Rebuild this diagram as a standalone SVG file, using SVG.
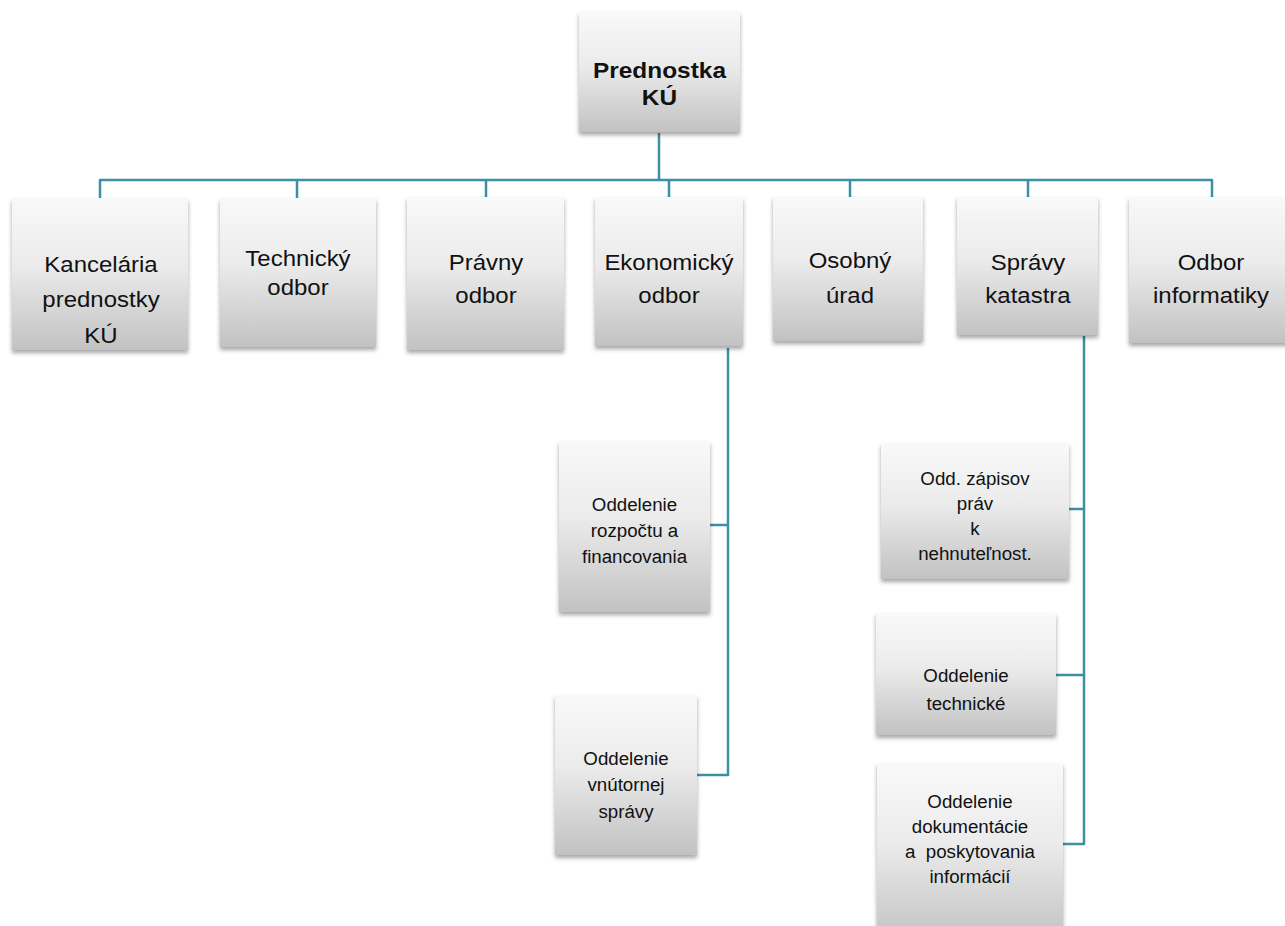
<svg xmlns="http://www.w3.org/2000/svg" width="1285" height="926" viewBox="0 0 1285 926">
<defs>
<linearGradient id="g" x1="0" y1="0" x2="0" y2="1">
<stop offset="0" stop-color="#f9f9f9"/>
<stop offset="0.45" stop-color="#ebebeb"/>
<stop offset="1" stop-color="#c2c2c2"/>
</linearGradient>
<filter id="sh" x="-10%" y="-10%" width="125%" height="125%">
<feDropShadow dx="0" dy="3" stdDeviation="2" flood-color="#000" flood-opacity="0.35"/>
</filter>
</defs>
<style>
.box{fill:url(#g);filter:url(#sh);}
.t{font-family:"Liberation Sans",Arial,sans-serif;font-size:22px;fill:#111;text-anchor:middle;}
.b{font-weight:bold;}
.s{font-size:18px;}
.c{fill:none;stroke:#3e8fa6;stroke-width:2.5;stroke-linejoin:round;}
</style>
<rect width="1285" height="926" fill="#ffffff"/>
<g id="connectors">
<path class="c" d="M659,133V180"/>
<path class="c" d="M100,198V180H1212V198"/>
<path class="c" d="M297,180V198M486,180V198M669,180V198M850,180V198M1028,180V198"/>
<path class="c" d="M728,348V775H697M710,525H728"/>
<path class="c" d="M1084,336V844H1063M1069,509H1084M1056,675H1084"/>
</g>
<g id="n-prednostka">
<rect class="box" x="579" y="12" width="161" height="120"/>
<g transform="scale(1.11,1)">
<text class="t b" x="594.14" y="78">Prednostka</text>
<text class="t b" x="594.14" y="105">KÚ</text>
</g>
</g>
<g id="n-kancelaria">
<rect class="box" x="12" y="198" width="176" height="152"/>
<g transform="scale(1.09,1)">
<text class="t" x="92.66" y="272">Kancelária</text>
<text class="t" x="92.66" y="307">prednostky</text>
<text class="t" x="92.66" y="343">KÚ</text>
</g>
</g>
<g id="n-technicky">
<rect class="box" x="220" y="198" width="156" height="149"/>
<g transform="scale(1.09,1)">
<text class="t" x="273.39" y="266">Technický</text>
<text class="t" x="273.39" y="295">odbor</text>
</g>
</g>
<g id="n-pravny">
<rect class="box" x="407" y="197" width="157" height="153"/>
<g transform="scale(1.09,1)">
<text class="t" x="445.87" y="270">Právny</text>
<text class="t" x="445.87" y="303">odbor</text>
</g>
</g>
<g id="n-ekonomicky">
<rect class="box" x="595" y="197" width="148" height="149"/>
<g transform="scale(1.09,1)">
<text class="t" x="613.76" y="270">Ekonomický</text>
<text class="t" x="613.76" y="303">odbor</text>
</g>
</g>
<g id="n-osobny">
<rect class="box" x="773" y="197" width="150" height="144"/>
<g transform="scale(1.09,1)">
<text class="t" x="779.82" y="268">Osobný</text>
<text class="t" x="779.82" y="303">úrad</text>
</g>
</g>
<g id="n-spravy">
<rect class="box" x="957" y="197" width="141" height="138"/>
<g transform="scale(1.09,1)">
<text class="t" x="943.12" y="270">Správy</text>
<text class="t" x="943.12" y="303">katastra</text>
</g>
</g>
<g id="n-informatiky">
<rect class="box" x="1129" y="197" width="163" height="146"/>
<g transform="scale(1.09,1)">
<text class="t" x="1111.01" y="270">Odbor</text>
<text class="t" x="1111.01" y="303">informatiky</text>
</g>
</g>
<g id="n-rozpoctu">
<rect class="box" x="559" y="441" width="151" height="171"/>
<g transform="scale(1.04,1)">
<text class="t s" x="610.10" y="511">Oddelenie</text>
<text class="t s" x="610.10" y="537">rozpočtu a</text>
<text class="t s" x="610.10" y="563">financovania</text>
</g>
</g>
<g id="n-vnutornej">
<rect class="box" x="555" y="695" width="142" height="160"/>
<g transform="scale(1.04,1)">
<text class="t s" x="601.92" y="765">Oddelenie</text>
<text class="t s" x="601.92" y="791">vnútornej</text>
<text class="t s" x="601.92" y="818">správy</text>
</g>
</g>
<g id="n-zapisov">
<rect class="box" x="881" y="443" width="188" height="136"/>
<g transform="scale(1.04,1)">
<text class="t s" x="937.5" y="485">Odd. zápisov</text>
<text class="t s" x="937.5" y="510">práv</text>
<text class="t s" x="937.5" y="535">k</text>
<text class="t s" x="937.5" y="560">nehnuteľnost.</text>
</g>
</g>
<g id="n-technicke">
<rect class="box" x="876" y="613" width="180" height="122"/>
<g transform="scale(1.04,1)">
<text class="t s" x="928.85" y="682">Oddelenie</text>
<text class="t s" x="928.85" y="710">technické</text>
</g>
</g>
<g id="n-dokumentacie">
<rect class="box" x="877" y="763" width="186" height="180"/>
<g transform="scale(1.04,1)">
<text class="t s" x="932.69" y="808">Oddelenie</text>
<text class="t s" x="932.69" y="833">dokumentácie</text>
<text class="t s" x="932.69" y="858" xml:space="preserve">a  poskytovania</text>
<text class="t s" x="932.69" y="883">informácií</text>
</g>
</g>
</svg>
